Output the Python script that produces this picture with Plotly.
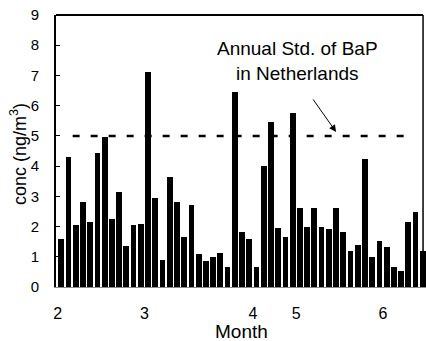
import plotly.graph_objects as go

# Daily BaP concentrations (ng/m3), one bar per sampling day
conc = [1.6, 4.3, 2.05, 2.8, 2.15, 4.45, 4.95, 2.25, 3.15, 1.35,
        2.05, 2.1, 7.1, 2.95, 0.9, 3.65, 2.8, 1.65, 2.7, 1.1,
        0.87, 1.0, 1.13, 0.67, 6.45, 1.82, 1.6, 0.67, 4.02, 5.47,
        1.95, 1.65, 5.75, 2.62, 2.0, 2.62, 1.97, 1.92, 2.62, 1.82,
        1.2, 1.4, 4.22, 1.0, 1.53, 1.33, 0.67, 0.54, 2.16, 2.48,
        1.2]
sample_idx = list(range(len(conc)))

# Month boundaries expressed as sample positions
month_pos = [-0.5, 11.5, 26.5, 32.5, 44.5]
month_lbl = ["2", "3", "4", "5", "6"]

# Annual standard for BaP in the Netherlands
std_value = 5.0

FONT = "Liberation Sans, Arial, Helvetica, sans-serif"

fig = go.Figure()
fig.add_trace(go.Bar(
    x=sample_idx, y=conc, width=0.8,
    marker=dict(color="black", line=dict(width=0)),
    showlegend=False, hoverinfo="y",
))

fig.update_layout(
    width=426, height=341,
    margin=dict(l=56, r=0, t=15, b=54),
    paper_bgcolor="white", plot_bgcolor="white",
    font=dict(family=FONT, color="black"),
    bargap=0,
)

fig.update_xaxes(
    range=[-0.73, 50.44],
    tickmode="array", tickvals=month_pos, ticktext=month_lbl,
    ticks="", showgrid=False, zeroline=False,
    showline=True, linecolor="#8a8a8a", linewidth=1,
    tickfont=dict(size=16, family=FONT), ticklabelstandoff=12,
)
fig.update_yaxes(
    range=[0, 9], tickmode="array", tickvals=list(range(10)),
    ticks="inside", ticklen=4, tickwidth=1, tickcolor="black",
    showgrid=False, zeroline=False,
    showline=True, linecolor="black", linewidth=2,
    tickfont=dict(size=15, family=FONT), ticklabelstandoff=12,
)

# frame: top and right border
fig.add_shape(type="line", xref="paper", yref="paper",
              x0=0, x1=0.992, y0=1, y1=1,
              line=dict(color="black", width=2))
fig.add_shape(type="line", xref="paper", yref="paper",
              x0=0.992, x1=0.992, y0=0, y1=1,
              line=dict(color="black", width=1.5))

# dashed standard line
fig.add_shape(type="line", xref="paper", yref="y",
              x0=0.045, x1=0.957, y0=std_value, y1=std_value,
              line=dict(color="black", width=2.5, dash="7px,11px"))

# label and arrow for the standard
fig.add_annotation(
    xref="paper", yref="paper", x=0.654, y=0.831,
    text="Annual Std. of BaP<br>in Netherlands", showarrow=False,
    font=dict(size=19, family=FONT), align="center",
    xanchor="center", yanchor="middle",
)
fig.add_annotation(
    xref="paper", yref="paper", x=0.757, y=0.570,
    ax=-24, ay=-34, text="", showarrow=True,
    arrowhead=2, arrowsize=1.4, arrowwidth=1, arrowcolor="black",
)

# axis titles
fig.add_annotation(
    xref="paper", yref="paper", x=0.5, y=-0.165,
    text="Month", showarrow=False, font=dict(size=19, family=FONT),
    xanchor="center", yanchor="middle",
)
fig.add_annotation(
    xref="paper", yref="paper", x=-0.1, y=0.489,
    text="conc (ng/m<sup>3</sup>)", showarrow=False, textangle=-90,
    font=dict(size=18, family=FONT),
    xanchor="center", yanchor="middle",
)

fig.write_html("out.html")
